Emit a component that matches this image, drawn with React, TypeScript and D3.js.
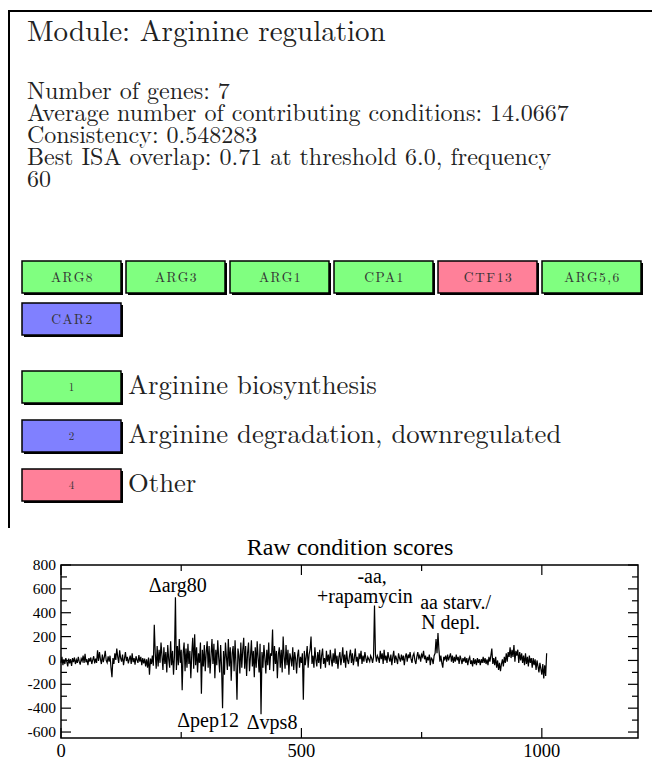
import React from 'react';
import * as d3 from 'd3';

// module summary
const moduleTitle = 'Module: Arginine regulation';
const infoLines = [
  'Number of genes: 7',
  'Average number of contributing conditions: 14.0667',
  'Consistency: 0.548283',
  'Best ISA overlap: 0.71 at threshold 6.0, frequency',
  '60',
];

// genes and their functional group
const genes = ['ARG8', 'ARG3', 'ARG1', 'CPA1', 'CTF13', 'ARG5,6', 'CAR2'];
const geneGroups = [1, 1, 1, 1, 4, 1, 2];

// legend
const groupIds = [1, 2, 4];
const groupNames = ['Arginine biosynthesis', 'Arginine degradation, downregulated', 'Other'];
const groupColors = ['#80ff80', '#8080ff', '#ff8099'];

// raw condition scores, one value every 2 conditions
const scoreStep = 2;
const scores = [
  -20, 30, -40, 10, -30, 20, -10, -50, 15, -25,
  10, -45, 20, -15, 25, -30, 5, -20, 30, -10,
  -35, 15, -5, 40, -20, 55, -15, 10, -40, 20,
  -10, 25, -30, 5, 35, -25, 15, -20, 85, -5,
  70, 10, -30, 50, -15, 25, 80, 0, -20, 35,
  -10, 40, -60, -140, 20, -30, 60, 5, 100, 30,
  -20, 85, 20, -10, 50, -40, 15, 70, -5, 30,
  -25, 10, 40, -30, 60, -15, 20, -35, 35, 5,
  -20, 45, -10, 30, -40, 20, -25, 15, -50, 10,
  -60, 25, -120, 15, -30, 40, -45, 300, 60, -70,
  120, -50, 90, -20, 150, 40, -80, 110, -30, 70,
  -100, 130, 10, -60, 160, -40, 80, -120, 40, 530,
  -80, 120, -40, 180, -20, 90, -250, 60, 150, -90,
  100, -60, 140, -30, 80, -150, 60, 190, -70, 220,
  -40, 110, -100, 60, -20, 150, -280, 90, -50, 130,
  -90, 70, 160, -60, 120, -110, 40, 180, -30, 140,
  -150, 90, -40, 170, 20, -100, 130, -60, -400, 80,
  -120, 150, 30, -80, 180, -50, 110, -170, 60, 120,
  -90, 170, -40, -330, 100, 40, -110, 150, -60, 90,
  190, -70, 120, -130, 60, 150, -90, 30, 170, -50,
  80, -140, 110, -60, 160, 20, -100, 140, -450, 70,
  -60, 130, 20, -110, 90, -40, 150, -80, 60, 40,
  260, -90, 120, -30, 80, -150, 50, 110, -60, 90,
  -100, 200, 30, -70, 130, -40, 90, -120, 60, 20,
  -50, 110, -80, 70, 10, -110, 40, 90, -60, 30,
  -20, 60, -330, 80, -40, 30, 120, -60, 50, 90,
  200, -30, 40, -60, 110, 10, -50, 70, -20, 90,
  -70, 40, 100, -30, 20, -60, 80, -10, 50, -40,
  90, 10, -50, 60, -20, 100, -30, 40, -70, 30,
  70, -40, 20, 110, -20, 50, -60, 80, 0, -30,
  40, 90, -20, 60, -40, 20, 100, -10, 30, -50,
  60, 10, 80, -30, 40, -10, 70, 20, -20, 30,
  10, -10, 40, 20, -20, 30, 460, 50, -10, 40,
  20, -20, 80, 10, 60, -30, 90, 0, 40, -20,
  70, 20, -10, 50, -40, 30, 80, -20, 40, 10,
  -30, 60, 20, -10, 50, 0, 40, -40, 30, 60,
  -10, 50, 20, 70, 10, -20, 40, 60, 0, -30,
  30, 70, 20, 40, -10, 50, 30, 80, 10, 40,
  -20, 30, 0, 50, -40, 20, 10, -30, 40, 60,
  180, 60, 230, 90, -10, 40, -20, -60, 30, 10,
  40, -10, 50, 0, 30, 60, -10, 40, -20, 30,
  -10, 50, 0, 30, -30, 40, 10, -30, 20, -10,
  30, -20, 20, -40, 10, 30, -30, 0, -50, 20,
  -30, 10, -40, 20, -20, 10, -40, 10, -20, 30,
  -20, 20, -30, 10, -40, 30, -10, 40, 100, -30,
  20, -40, 30, -60, 0, -80, -20, -90, -30, 10,
  -50, 30, -20, 60, -10, 70, 30, 110, 20, 90,
  30, 130, -10, 80, 40, 90, -20, 70, 0, 60,
  -20, 40, -40, 60, -30, 30, -50, 40, -20, 20,
  -60, 20, -40, 10, -80, 0, -50, -100, -20, -70,
  -120, -30, -150, -40, -130, 60,
];

const xMajor = [0, 500, 1000];
const xMinor = [250, 750];
const yMajor = [-600, -400, -200, 0, 200, 400, 600, 800];
const yMinor = [-500, -300, -100, 100, 300, 500, 700];

// labelled conditions: [text, condition, score, anchor]
const notes: [string, number, number, string][] = [
  ['\u0394arg80', 243, 574, 'middle'],
  ['-aa,', 647, 650, 'middle'],
  ['+rapamycin', 632, 481, 'middle'],
  ['aa starv./', 747, 431, 'start'],
  ['N depl.', 749, 264, 'start'],
  ['\u0394pep12', 306, -558, 'middle'],
  ['\u0394vps8', 439, -575, 'middle'],
];

const latex = { fontFamily: '"Latin Modern Roman"' };
const times = { fontFamily: '"Liberation Serif"' };

const App: React.FC = () => {
  const width = 652;
  const height = 760;
  const plot = { left: 61, right: 638, top: 565, bottom: 738 };

  const x = d3.scaleLinear().domain([0, 1200]).range([plot.left, plot.right]);
  const y = d3.scaleLinear().domain([-650, 800]).range([plot.bottom, plot.top]);

  const line = d3.line<number>()
    .x((_, i) => x(i * scoreStep))
    .y(d => y(d));

  const boxW = 99;
  const boxH = 32;
  const colX = (i: number) => 22 + (i % 6) * 104;
  const rowY = (i: number) => 261 + Math.floor(i / 6) * 42;
  const colorOf = (g: number) => groupColors[groupIds.indexOf(g)];

  const major = 10;
  const minor = 6;

  return (
    <svg width={width} height={height} style={{ position: 'absolute', left: 0, top: 0, background: '#fff' }}>
      {/* module panel frame */}
      <path d="M9,528V11H652" fill="none" stroke="#000" strokeWidth={2} />

      <text x={27} y={41} style={latex} fontSize={29} fill="#222">{moduleTitle}</text>
      {infoLines.map((t, i) => (
        <text key={t} x={27} y={99 + i * 22} style={latex} fontSize={24} fill="#222">{t}</text>
      ))}

      {genes.map((g, i) => (
        <g key={g}>
          <rect x={colX(i) + 2} y={rowY(i) + 2} width={boxW} height={boxH} fill="#000" />
          <rect x={colX(i)} y={rowY(i)} width={boxW} height={boxH} fill={colorOf(geneGroups[i])} stroke="#000" strokeWidth={1.5} />
          <text x={colX(i) + boxW / 2 + 1} y={rowY(i) + boxH / 2 + 5} textAnchor="middle" style={latex}
            fontSize={13.5} letterSpacing={1.5} fill="#333">{g}</text>
        </g>
      ))}

      {groupIds.map((id, i) => {
        const by = 371 + i * 49;
        return (
          <g key={id}>
            <rect x={22 + 2} y={by + 2} width={boxW} height={boxH} fill="#000" />
            <rect x={22} y={by} width={boxW} height={boxH} fill={groupColors[i]} stroke="#000" strokeWidth={1.5} />
            <text x={22 + boxW / 2} y={by + boxH / 2 + 4} textAnchor="middle" style={latex} fontSize={11} fill="#333">{id}</text>
            <text x={128} y={by + 23} style={latex} fontSize={26.7} fill="#222">{groupNames[i]}</text>
          </g>
        );
      })}

      {/* raw condition score plot */}
      <text x={350} y={555} textAnchor="middle" style={times} fontSize={24}>Raw condition scores</text>

      <path d={line(scores) ?? ''} fill="none" stroke="#000" strokeWidth={1.2} />

      <rect x={plot.left} y={plot.top} width={plot.right - plot.left} height={plot.bottom - plot.top}
        fill="none" stroke="#000" strokeWidth={1.5} />

      {yMajor.concat(yMinor).map(v => {
        const len = yMajor.includes(v) ? major : minor;
        return (
          <g key={'y' + v} stroke="#000" strokeWidth={1.2}>
            <line x1={plot.left} x2={plot.left + len} y1={y(v)} y2={y(v)} />
            <line x1={plot.right} x2={plot.right - len} y1={y(v)} y2={y(v)} />
          </g>
        );
      })}
      {xMajor.concat(xMinor).map(v => {
        const len = xMajor.includes(v) ? major : minor;
        return (
          <g key={'x' + v} stroke="#000" strokeWidth={1.2}>
            <line x1={x(v)} x2={x(v)} y1={plot.bottom} y2={plot.bottom - len} />
            <line x1={x(v)} x2={x(v)} y1={plot.top} y2={plot.top + len} />
          </g>
        );
      })}

      {yMajor.map(v => (
        <text key={'yl' + v} x={plot.left - 5} y={y(v) + 5} textAnchor="end" style={times} fontSize={15.5}>{v}</text>
      ))}
      {xMajor.map(v => (
        <text key={'xl' + v} x={x(v)} y={757} textAnchor="middle" style={times} fontSize={18.5}>{v}</text>
      ))}

      {notes.map(([t, c, s, anchor]) => (
        <text key={t} x={x(c)} y={y(s)} textAnchor={anchor as any} style={times} fontSize={20}>{t}</text>
      ))}
    </svg>
  );
};

export default App;
